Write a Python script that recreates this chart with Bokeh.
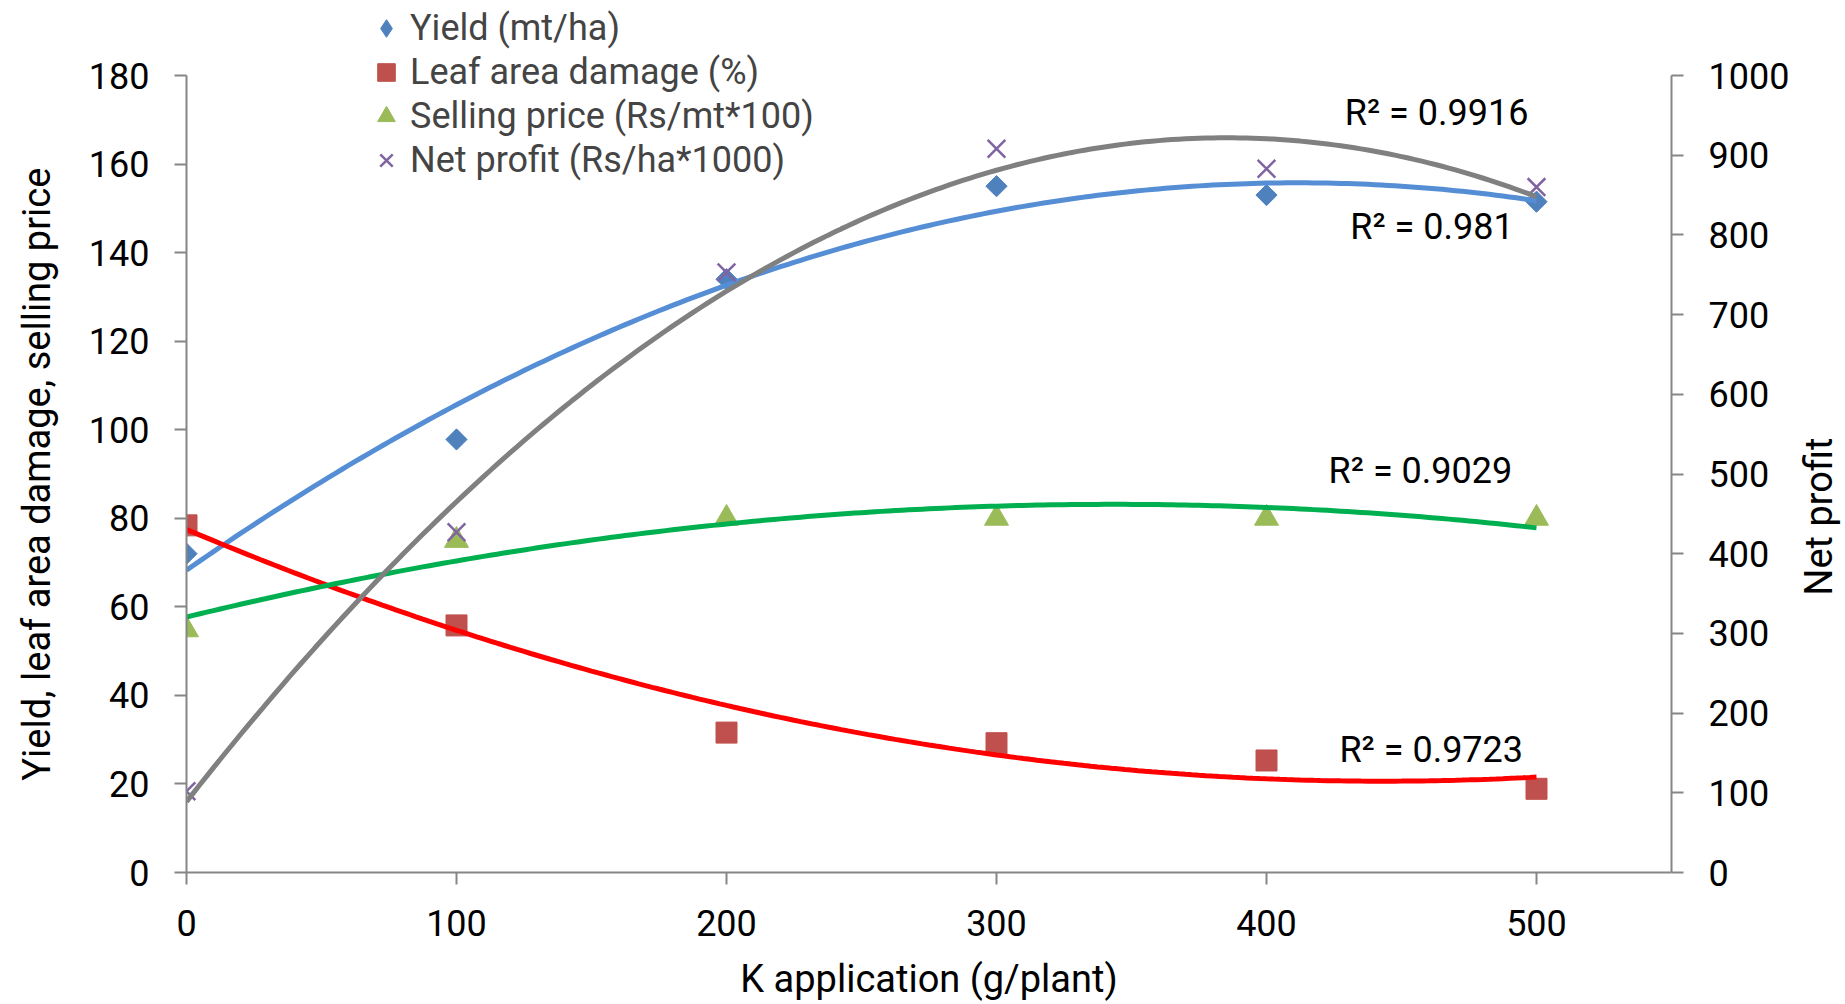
import numpy as np
from bokeh.plotting import figure
from bokeh.layouts import row
from bokeh.models import (Range1d, LinearAxis, FixedTicker, Legend, LegendItem, Label)
from bokeh.embed import file_html
from bokeh.resources import INLINE

# ---- data ----
k_rate = [0, 100, 200, 300, 400, 500]
yield_mt = [72.0, 97.8, 134.0, 155.0, 153.0, 151.5]
leaf_damage = [78.4, 55.8, 31.6, 29.2, 25.3, 18.9]
selling_price = [54.8, 75.0, 80.0, 80.0, 80.0, 80.0]
net_profit = [102, 427, 753, 908, 883, 860]

series_names = ["Yield (mt/ha)", "Leaf area damage (%)",
                "Selling price (Rs/mt*100)", "Net profit (Rs/ha*1000)"]
r2_texts = ["R\u00b2 = 0.9916", "R\u00b2 = 0.981", "R\u00b2 = 0.9029", "R\u00b2 = 0.9723"]
r2_x = [429, 431, 423, 427]
r2_y = [171.6, 145.7, 90.6, 27.6]

left_ticks = list(range(0, 181, 20))
right_ticks = list(range(0, 1001, 100))
x_ticks = [0, 100, 200, 300, 400, 500]

FONT = "Roboto"
GREY = "#868686"
NBSP = "\u00a0"

# frame spans from the canvas top down to the x axis (872 px); axes are bounded
Y_TOP = 180 * 872 / 797
NP_TOP = 1000 * 872 / 797

p = figure(width=1792, height=1004, output_backend="svg", toolbar_location=None,
           x_range=Range1d(0, 550), y_range=Range1d(0, Y_TOP),
           min_border_left=186, min_border_right=121, min_border_top=0,
           min_border_bottom=132)
p.extra_y_ranges = {"np": Range1d(0, NP_TOP)}
p.outline_line_color = None
p.grid.visible = False
p.background_fill_color = "white"

right = LinearAxis(y_range_name="np")
p.add_layout(right, "right")

for ax in [p.xaxis[0], p.yaxis[0], right]:
    ax.axis_line_color = GREY
    ax.axis_line_width = 2
    ax.major_tick_line_color = GREY
    ax.major_tick_line_width = 2
    ax.major_tick_in = 0
    ax.major_tick_out = 12
    ax.minor_tick_line_color = None
    ax.major_label_text_font = FONT
    ax.major_label_text_font_size = "36px"
    ax.major_label_text_color = "black"
    ax.axis_label_text_font = FONT
    ax.axis_label_text_font_size = "38px"
    ax.axis_label_text_font_style = "normal"
    ax.axis_label_text_color = "black"

p.xaxis[0].ticker = FixedTicker(ticks=x_ticks)
p.xaxis[0].axis_label = "K application (g/plant)"
p.xaxis[0].major_label_standoff = 25
p.xaxis[0].axis_label_standoff = 18

p.yaxis[0].ticker = FixedTicker(ticks=left_ticks)
p.yaxis[0].bounds = (0, 180)
# trailing no-break spaces keep the title centred on the 0-180 span
p.yaxis[0].axis_label = "Yield, leaf area damage, selling price" + NBSP * 8
p.yaxis[0].major_label_standoff = 25
p.yaxis[0].axis_label_standoff = 27

right.ticker = FixedTicker(ticks=right_ticks)
right.bounds = (0, 1000)
right.major_label_standoff = 25

# ---- markers ----
# plain diamond (hidden under the rotated square) supplies the legend swatch
r_y_leg = p.scatter(k_rate, yield_mt, marker="diamond", size=17,
                    fill_color="#4F81BD", line_color="#4F81BD")
r_y = p.scatter(k_rate, yield_mt, marker="square", size=15, angle=np.pi / 4,
                fill_color="#4F81BD", line_color="#4F81BD")
r_l = p.scatter(k_rate, leaf_damage, marker="square", size=21,
                fill_color="#C0504D", line_color="#C0504D")
r_s = p.scatter(k_rate, selling_price, marker="triangle", size=24,
                fill_color="#9BBB59", line_color="#9BBB59")

# ---- polynomial (order 2) trendlines, as in the source chart ----
xs = np.linspace(0, 500, 201)
for vals, col in [(yield_mt, "#558ED5"), (leaf_damage, "#FF0000"),
                  (selling_price, "#00B050")]:
    c = np.polyfit(k_rate, vals, 2)
    p.line(xs, np.polyval(c, xs), line_color=col, line_width=5)

r_n = p.scatter(k_rate, net_profit, marker="x", size=25, line_color="#8064A2",
                line_width=2.5, y_range_name="np")
c_n = np.polyfit(k_rate, net_profit, 2)
p.line(xs, np.polyval(c_n, xs), line_color="#808080", line_width=5, y_range_name="np")

for t, xx, yy in zip(r2_texts, r2_x, r2_y):
    p.add_layout(Label(x=xx, y=yy, text=t, text_font=FONT, text_font_size="36px",
                       text_color="black", text_baseline="middle", text_align="left"))

legend = Legend(items=[LegendItem(label=series_names[0], renderers=[r_y_leg]),
                       LegendItem(label=series_names[1], renderers=[r_l]),
                       LegendItem(label=series_names[2], renderers=[r_s]),
                       LegendItem(label=series_names[3], renderers=[r_n])],
                location=(178, 690), padding=0, spacing=0, margin=0,
                glyph_width=44, glyph_height=44, label_height=44,
                label_standoff=2, label_text_font=FONT,
                label_text_font_size="36px", label_text_baseline="middle",
                border_line_color=None, background_fill_alpha=0)
p.add_layout(legend, "center")

# ---- narrow strip carrying the secondary-axis title (reads bottom to top) ----
p2 = figure(width=53, height=1004, output_backend="svg", toolbar_location=None,
            x_range=Range1d(0, 1), y_range=Range1d(0, 1), x_axis_location=None,
            min_border_left=50, min_border_right=0, min_border_top=0,
            min_border_bottom=132)
p2.outline_line_color = None
p2.grid.visible = False
ya = p2.yaxis[0]
ya.ticker = FixedTicker(ticks=[])
ya.axis_line_color = None
ya.major_tick_line_color = None
ya.major_tick_in = 0
ya.major_tick_out = 0
ya.minor_tick_line_color = None
ya.major_label_standoff = 0
# trailing no-break spaces lower the title to where the source places it
ya.axis_label = "Net profit" + NBSP * 17
ya.axis_label_standoff = 2
ya.axis_label_text_font = FONT
ya.axis_label_text_font_size = "38px"
ya.axis_label_text_font_style = "normal"
ya.axis_label_text_color = "black"

layout = row(p, p2, spacing=0)
open("out.html", "w").write(file_html(layout, INLINE))
